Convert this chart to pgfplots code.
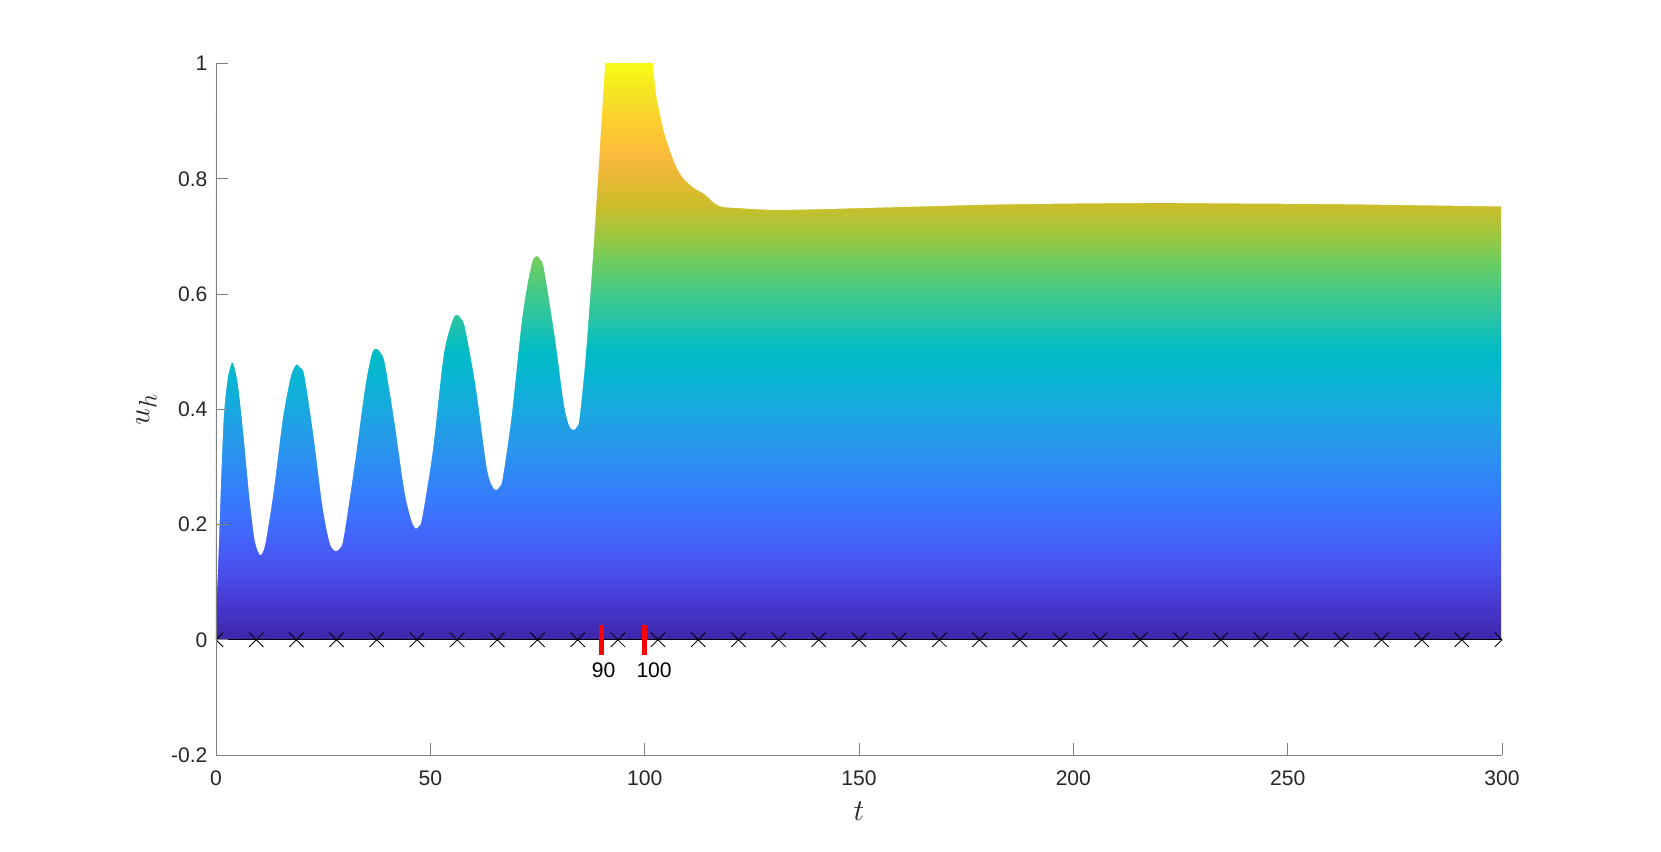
\documentclass[border=0pt]{standalone}
\usepackage{pgfplots}
\pgfplotsset{compat=1.18}
\usepackage{fontspec}
\setmainfont{Liberation Sans}

% parula-like colours along u (0 -> 1), mapped to 25bp..75bp of the shading
\definecolor{p00}{RGB}{62,38,168}
\definecolor{p05}{RGB}{69,52,200}
\definecolor{p10}{RGB}{72,72,228}
\definecolor{p15}{RGB}{71,90,245}
\definecolor{p20}{RGB}{64,108,253}
\definecolor{p25}{RGB}{54,124,252}
\definecolor{p30}{RGB}{45,140,243}
\definecolor{p35}{RGB}{37,154,233}
\definecolor{p40}{RGB}{24,168,223}
\definecolor{p45}{RGB}{10,180,212}
\definecolor{p50}{RGB}{0,187,198}
\definecolor{p55}{RGB}{35,195,170}
\definecolor{p60}{RGB}{65,200,138}
\definecolor{p65}{RGB}{105,204,100}
\definecolor{p70}{RGB}{155,200,65}
\definecolor{p75}{RGB}{200,190,42}
\definecolor{p80}{RGB}{232,184,52}
\definecolor{p84}{RGB}{252,186,60}
\definecolor{p90}{RGB}{252,206,46}
\definecolor{p95}{RGB}{245,228,35}
\definecolor{p100}{RGB}{249,251,20}
\definecolor{ticktext}{RGB}{38,38,38}

\pgfdeclareverticalshading{parulay}{100bp}{
  color(0bp)=(p00); color(25bp)=(p00); color(27.5bp)=(p05); color(30bp)=(p10);
  color(32.5bp)=(p15); color(35bp)=(p20); color(37.5bp)=(p25); color(40bp)=(p30);
  color(42.5bp)=(p35); color(45bp)=(p40); color(47.5bp)=(p45); color(50bp)=(p50);
  color(52.5bp)=(p55); color(55bp)=(p60); color(57.5bp)=(p65); color(60bp)=(p70);
  color(62.5bp)=(p75); color(65bp)=(p80); color(67bp)=(p84); color(70bp)=(p90);
  color(72.5bp)=(p95); color(75bp)=(p100); color(100bp)=(p100)}

\begin{document}
\begin{tikzpicture}
\begin{axis}[
  at={(0,0)}, anchor=south west,
  scale only axis,
  width=257.2mm, height=138.3mm,
  xmin=0, xmax=300,
  ymin=-0.2, ymax=1,
  xtick={0,50,100,150,200,250,300},
  ytick={-0.2,0,0.2,0.4,0.6,0.8,1},
  yticklabels={-0.2,0,0.2,0.4,0.6,0.8,1},
  xticklabels={0,50,100,150,200,250,300},
  axis x line=bottom,
  axis y line=left,
  axis on top,
  axis line style={-, draw=black!50, line width=0.55pt},
  tick align=inside,
  major tick length=2.4mm,
  tick style={draw=black!50, line width=0.55pt},
  ticklabel style={font=\fontsize{12}{14}\selectfont, text=ticktext},
  xticklabel style={inner sep=0pt, anchor=north, yshift=-3mm},
  yticklabel style={inner sep=0pt, anchor=east, xshift=-1.66mm},
  xlabel={$t$},
  ylabel={$u_h$},
  label style={font=\fontsize{19}{22}\selectfont, text=ticktext},
  xlabel style={at={(axis description cs:0.5,0)}, anchor=center, yshift=-11.3mm},
  ylabel style={at={(axis description cs:0,0.5)}, anchor=center, yshift=13.9mm},
  clip=true,
]

% colour field u in [0,1]
\addplot[draw=none, shade, shading=parulay] coordinates {(0,1) (299.8,1)} \closedcycle;

% white above the solution curve u_h(t) (the curve is clipped at u = 1)
\addplot[draw=none, fill=white, smooth, tension=0.5] coordinates {
(0,0.04) (0.6,0.151) (1.25,0.288) (1.85,0.39) (2.7,0.452) (3.7,0.481)
(4.4,0.47) (5.2,0.438) (6.4,0.356) (7.7,0.253) (8.9,0.178) (9.7,0.155)
(10.4,0.147) (11.1,0.155) (11.8,0.178) (13.5,0.26) (15.6,0.384) (17.3,0.452)
(18.2,0.472) (18.9,0.478) (19.7,0.472) (20.6,0.459) (22.7,0.356) (24.8,0.233)
(26.4,0.171) (27.3,0.157) (28.1,0.154) (29.0,0.160) (29.8,0.178) (32.3,0.301)
(34.8,0.438) (36.4,0.497) (37.5,0.505) (38.5,0.497) (39.4,0.479) (41.5,0.384)
(43.9,0.26) (45.5,0.209) (46.6,0.193) (47.4,0.198) (48.1,0.212) (50.6,0.329)
(53.1,0.493) (55.2,0.555) (56.3,0.564) (57.2,0.557) (58.1,0.541) (60.6,0.438)
(63.1,0.301) (64.4,0.267) (65.4,0.26) (66.2,0.266) (66.9,0.281) (69.0,0.39)
(71.5,0.562) (73.6,0.651) (74.8,0.666) (75.7,0.659) (76.5,0.644) (79.0,0.527)
(81.1,0.411) (82.3,0.373) (83.4,0.364) (84.2,0.370) (84.8,0.384) (86.1,0.479)
(87.3,0.596) (88.6,0.74) (89.8,0.884) (90.8,1.0) (91.6,1.08) (96,1.15)
(101.2,1.06) (101.9,1.0) (102.6,0.95) (103.2,0.925)
(104.4,0.884) (105.7,0.853) (107.3,0.822) (109.0,0.801) (111.5,0.784)
(114.0,0.773) (117.3,0.753) (122.2,0.749) (130,0.746) (140,0.747) (150,0.749)
(165,0.752) (180,0.755) (200,0.757) (220,0.758) (240,0.757) (260,0.756)
(280,0.754) (300,0.752)
} -- (axis cs:302,0.752) -- (axis cs:302,1.3) -- (axis cs:-2,1.3)
  -- (axis cs:-2,0.04) -- cycle;

% white below u = 0
\addplot[draw=none, fill=white] coordinates {(-2,0) (302,0)} |- (axis cs:-2,-0.3) -- cycle;

% baseline
\addplot[black, line width=0.8pt] coordinates {(0,0) (300,0)};

% red markers at t = 90 and t = 100
\addplot[red, line width=2.85pt] coordinates {(90,-0.026) (90,0.026)};
\addplot[red, line width=2.85pt] coordinates {(100,-0.026) (100,0.026)};
\node[font=\fontsize{12}{14}\selectfont, text=black, anchor=center]
  at (axis cs:90.4,-0.0535) {90};
\node[font=\fontsize{12}{14}\selectfont, text=black, anchor=center]
  at (axis cs:102.2,-0.0535) {100};

% mesh nodes
\addplot[only marks, mark=x, mark size=5.8pt, black, line width=0.5pt,
         clip mode=individual] coordinates {
(0,0) (9.375,0) (18.75,0) (28.125,0) (37.5,0) (46.875,0) (56.25,0) (65.625,0)
(75,0) (84.375,0) (93.75,0) (103.125,0) (112.5,0) (121.875,0) (131.25,0)
(140.625,0) (150,0) (159.375,0) (168.75,0) (178.125,0) (187.5,0) (196.875,0)
(206.25,0) (215.625,0) (225,0) (234.375,0) (243.75,0) (253.125,0) (262.5,0)
(271.875,0) (281.25,0) (290.625,0) (300,0)
};
\end{axis}
\pgfresetboundingbox
\path[use as bounding box] (-43.2mm,-19.2mm) rectangle (289.0mm,151.0mm);
\end{tikzpicture}
\end{document}
